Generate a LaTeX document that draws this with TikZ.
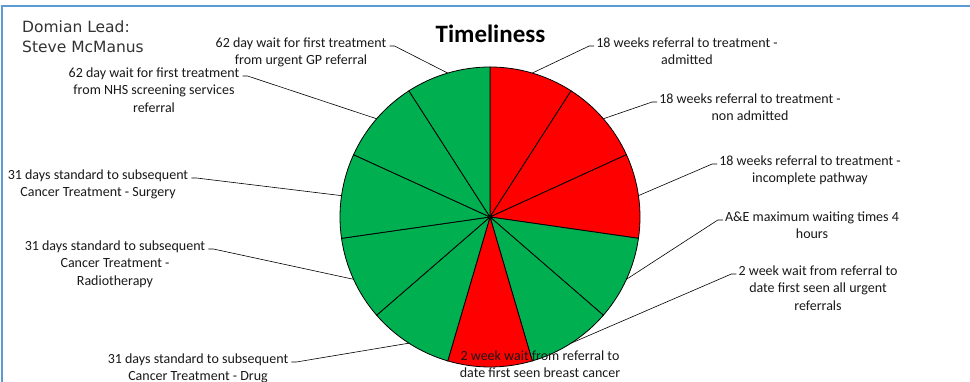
\documentclass[tikz,border=0pt]{standalone}
\usepackage{fontspec}
\setmainfont{Carlito}
\newfontfamily\leadfont{DejaVu Sans}
\definecolor{okgreen}{HTML}{00B050}
\definecolor{badred}{HTML}{FF0000}
\definecolor{frameblue}{HTML}{5B9BD5}
\begin{document}
\begin{tikzpicture}[x=1pt,y=1pt,
  lbl/.style={align=center, inner sep=0pt, anchor=north,
    font=\fontsize{14}{17.5}\selectfont, text=black!90},
  leader/.style={draw=black, line width=0.6pt},
  wedge/.style={draw=black, line width=0.8pt}]
\useasboundingbox (0,0) rectangle (970,382);
\fill[white] (0,0) rectangle (970,382);
% chart frame
\draw[frameblue, line width=1.5pt] (2,0) -- (2,376) -- (970,376);

% pie of eleven equal wedges, clockwise from the top
\coordinate (c) at (490,165);
\foreach \i/\col in {0/badred,1/badred,2/badred,3/okgreen,4/okgreen,5/badred,
                     6/okgreen,7/okgreen,8/okgreen,9/okgreen,10/okgreen}{
  \pgfmathsetmacro\a{90-360/11*\i}
  \pgfmathsetmacro\b{90-360/11*(\i+1)}
  \pgfmathsetmacro\m{(\a+\b)/2}
  \filldraw[wedge, fill=\col] (c) -- ++(\a:150pt)
     arc[start angle=\a, end angle=\b, radius=150pt] -- cycle;
  \path (c) ++(\m:150pt) coordinate (s\i);
}

% title and lead
\node[font=\fontsize{25}{29}\selectfont\bfseries, inner sep=0pt] (title) at (490.5,348) {Timeliness};
\node[font=\leadfont\fontsize{15.5}{20}\selectfont, text=black!80, align=left,
      inner sep=0pt, anchor=north west] (lead) at (22,361.5) {Domian Lead:\\Steve McManus};

% data labels, right side
\node[lbl] (l0) at (687,344.5) {18 weeks referral to treatment -\\admitted};
\node[lbl] (l1) at (750,288.5) {18 weeks referral to treatment -\\non admitted};
\node[lbl] (l2) at (810,226.5) {18 weeks referral to treatment -\\incomplete pathway};
\node[lbl] (l3) at (812,170.5) {A\&E maximum waiting times 4\\hours};
\node[lbl] (l4) at (818,116.5) {2 week wait from referral to\\date first seen all urgent\\referrals};
% data labels, left side
\node[lbl] (l6) at (198,28.5) {31 days standard to subsequent\\Cancer Treatment - Drug};
\node[lbl] (l7) at (115,141.5) {31 days standard to subsequent\\Cancer Treatment -\\Radiotherapy};
\node[lbl] (l8) at (98,212.5) {31 days standard to subsequent\\Cancer Treatment - Surgery};
\node[lbl] (l9) at (154,314.5) {62 day wait for first treatment\\from NHS screening services\\referral};
\node[lbl] (l10) at (301,344.5) {62 day wait for first treatment\\from urgent GP referral};

% leader lines
\foreach \i in {0,1,2,3,4}{
  \draw[leader] (s\i) -- ([shift={(-7pt,-8.5pt)}]l\i.north west)
                      -- ([shift={(-2pt,-8.5pt)}]l\i.north west);
}
\foreach \i in {6,7,8,9,10}{
  \draw[leader] (s\i) -- ([shift={(8pt,-8.5pt)}]l\i.north east)
                      -- ([shift={(3pt,-8.5pt)}]l\i.north east);
}

% label sitting on the bottom wedge
\node[lbl] (l5) at (540,31.5) {2 week wait from referral to\\date first seen breast cancer};
\end{tikzpicture}
\end{document}
